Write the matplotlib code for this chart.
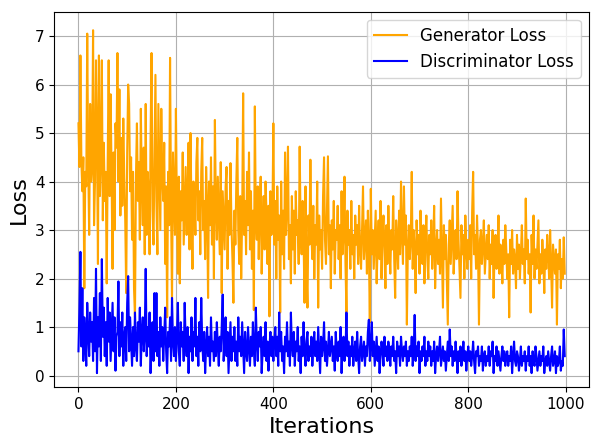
import matplotlib
matplotlib.use("Agg")
import matplotlib.pyplot as plt
import numpy as np

# values, one sample every 2 iterations
gen_loss = [
    5.2, 4.3, 6.6, 4.4, 3.8, 4.5, 1.8, 4.2, 3.9, 7.05, 4.4, 2.9, 5.6, 4.0, 4.3, 7.12, 3.1, 4.0, 6.5, 4.9,
    2.3, 6.6, 3.7, 4.5, 6.5, 3.2, 4.8, 3.6, 4.2, 1.9, 4.4, 6.5, 3.7, 5.8, 4.1, 2.2, 4.6, 3.0, 5.2, 4.7,
    6.65, 4.0, 5.9, 3.3, 4.9, 3.5, 5.3, 4.1, 3.2, 1.7, 4.6, 6.0, 5.6, 3.8, 4.5, 2.8, 4.2, 1.8, 1.2, 4.1,
    5.2, 3.6, 4.4, 2.8, 5.5, 3.9, 3.1, 4.7, 2.5, 5.6, 2.9, 4.2, 3.8, 2.5, 4.9, 6.65, 3.4, 2.7, 4.5, 6.2,
    3.6, 2.5, 5.6, 4.3, 3.0, 5.5, 4.1, 3.6, 4.8, 2.3, 3.9, 1.2, 4.2, 3.1, 6.55, 3.5, 1.5, 4.6, 3.7, 2.9,
    5.5, 3.4, 2.1, 4.1, 1.9, 3.8, 3.2, 4.6, 2.7, 3.5, 4.3, 2.9, 3.7, 4.8, 2.6, 5.0, 3.3, 2.2, 4.0, 3.6,
    2.9, 4.4, 4.9, 3.2, 3.8, 2.5, 4.2, 4.9, 3.0, 3.6, 2.4, 4.3, 3.5, 1.6, 4.0, 3.1, 4.5, 2.7, 3.9, 2.0,
    5.27, 3.5, 2.8, 4.1, 3.3, 2.5, 4.4, 1.7, 3.8, 3.2, 2.6, 3.9, 4.3, 2.2, 3.6, 2.9, 4.38, 3.1, 2.4, 1.5,
    3.4, 2.7, 4.0, 4.9, 3.0, 2.3, 3.7, 2.0, 3.3, 5.82, 2.9, 3.6, 2.5, 4.2, 3.1, 4.6, 2.6, 3.8, 2.2, 3.4,
    1.35, 5.55, 3.2, 2.8, 3.9, 2.4, 3.5, 4.1, 2.1, 3.0, 3.7, 2.6, 4.0, 3.3, 2.3, 3.5, 1.22, 3.8, 2.9, 3.2,
    5.2, 2.7, 3.6, 2.0, 3.9, 2.8, 3.3, 1.3, 4.0, 2.5, 3.4, 2.2, 4.6, 2.9, 3.5, 4.72, 2.4, 3.1, 1.9, 3.7,
    2.6, 3.4, 2.1, 3.8, 2.9, 3.2, 2.3, 4.72, 3.0, 2.5, 3.6, 2.8, 1.5, 3.9, 2.2, 1.4, 3.3, 2.7, 4.45, 2.9,
    2.4, 3.5, 2.0, 3.1, 2.7, 4.0, 1.4, 3.3, 2.6, 3.0, 2.2, 3.7, 4.5, 2.8, 2.3, 3.4, 4.52, 2.5, 3.1, 1.8,
    3.2, 2.6, 3.6, 2.1, 3.0, 2.8, 3.5, 2.4, 3.1, 2.0, 3.8, 2.5, 2.9, 4.1, 2.3, 1.3, 3.4, 2.7, 3.0, 2.2,
    3.6, 2.5, 2.9, 2.0, 3.3, 2.7, 3.1, 2.3, 3.5, 2.6, 2.2, 3.0, 3.9, 2.4, 2.8, 3.2, 2.1, 3.4, 2.6, 1.1,
    3.85, 2.5, 3.0, 2.2, 2.8, 3.4, 1.9, 2.7, 3.2, 2.4, 3.6, 2.0, 2.9, 3.3, 2.6, 1.8, 3.1, 2.3, 3.5, 2.7,
    2.1, 3.0, 2.6, 3.7, 2.4, 1.6, 3.2, 2.8, 2.2, 3.4, 2.5, 4.0, 2.9, 2.3, 3.9, 2.7, 3.3, 1.05, 2.6, 3.1,
    2.4, 2.8, 4.2, 2.2, 3.0, 2.6, 1.7, 3.2, 2.5, 2.9, 2.1, 3.4, 2.7, 2.3, 3.1, 1.9, 2.8, 3.3, 2.4, 2.0,
    2.9, 2.5, 3.2, 2.2, 2.7, 3.5, 1.8, 2.6, 3.0, 2.3, 2.8, 2.1, 3.65, 2.5, 1.4, 3.1, 2.4, 2.9, 2.0, 1.05,
    2.7, 3.2, 2.3, 2.9, 3.5, 2.1, 2.6, 3.0, 2.4, 3.8, 2.8, 2.2, 1.6, 3.1, 2.5, 2.9, 2.0, 3.3, 2.6, 2.2,
    2.8, 2.4, 3.1, 2.0, 3.4, 4.2, 2.5, 2.9, 2.2, 3.3, 2.6, 1.05, 2.8, 3.0, 2.3, 2.7, 3.2, 2.1, 2.5, 2.9,
    2.4, 3.1, 2.0, 2.7, 2.3, 3.0, 1.6, 2.6, 2.9, 2.2, 2.5, 3.3, 2.1, 2.7, 2.4, 1.9, 2.8, 2.3, 3.1, 2.6,
    2.0, 2.5, 1.2, 2.8, 2.3, 3.0, 2.1, 2.6, 2.4, 1.8, 2.9, 2.2, 2.7, 2.0, 2.5, 3.1, 2.3, 2.6, 1.9, 3.65,
    2.4, 2.8, 2.1, 2.5, 1.3, 2.9, 2.3, 3.3, 2.0, 2.6, 2.2, 2.7, 3.2, 1.9, 2.5, 2.1, 2.8, 2.4, 1.7, 2.6,
    2.2, 2.9, 2.5, 2.0, 3.0, 2.3, 1.4, 2.7, 2.4, 2.1, 2.6, 1.05, 2.5, 2.2, 2.8, 1.8, 2.4, 2.0, 2.85, 2.1,
]

disc_loss = [
    0.5, 1.4, 2.55, 0.6, 1.8, 0.3, 1.2, 0.8, 0.2, 1.5, 0.9, 0.4, 1.3, 0.7, 1.1, 0.3, 1.6, 0.5, 2.2, 0.05,
    1.2, 0.6, 1.7, 0.3, 2.4, 0.8, 1.4, 0.4, 1.1, 0.2, 1.6, 0.7, 1.3, 0.3, 0.9, 1.5, 0.5, 1.2, 0.1, 0.8,
    0.9, 1.94, 0.4, 1.1, 0.6, 1.3, 0.2, 0.8, 1.0, 0.3, 1.5, 2.05, 0.5, 1.2, 0.7, 0.2, 1.0, 0.4, 1.3, 0.6,
    0.3, 1.1, 0.7, 1.4, 0.2, 0.9, 1.2, 0.5, 0.8, 2.2, 0.4, 1.0, 0.6, 1.3, 0.05, 0.7, 1.1, 0.3, 1.7, 0.5,
    1.7, 0.4, 0.9, 0.2, 1.2, 0.6, 1.0, 0.3, 0.8, 1.4, 0.5, 0.05, 0.9, 0.6, 1.2, 0.3, 1.6, 0.7, 0.4, 1.0,
    0.3, 0.8, 1.5, 0.5, 0.2, 1.1, 0.6, 0.9, 0.3, 1.5, 0.7, 0.4, 1.0, 0.05, 0.8, 0.5, 1.2, 0.3, 0.9, 0.6,
    1.6, 0.4, 0.8, 0.2, 1.1, 0.5, 1.6, 0.7, 0.3, 0.9, 0.05, 0.6, 1.0, 0.4, 0.8, 0.2, 1.2, 0.5, 0.7, 0.3,
    0.9, 0.4, 1.1, 0.6, 0.2, 0.8, 0.5, 1.0, 1.67, 0.3, 0.7, 1.2, 0.4, 0.9, 0.05, 0.6, 1.1, 0.3, 0.8, 0.5,
    1.0, 0.3, 0.7, 0.2, 1.2, 0.5, 0.8, 0.4, 1.1, 0.6, 0.05, 0.9, 0.5, 0.3, 1.0, 0.6, 0.2, 0.8, 0.4, 1.1,
    0.5, 0.2, 1.4, 0.7, 0.3, 0.9, 0.6, 1.0, 0.05, 0.5, 0.8, 0.4, 1.1, 0.3, 0.7, 0.1, 0.6, 0.9, 0.4, 0.8,
    0.3, 0.7, 1.0, 0.4, 0.8, 0.2, 1.3, 0.5, 0.9, 0.3, 0.6, 0.05, 0.8, 0.5, 1.1, 0.4, 0.7, 0.2, 1.3, 0.6,
    0.4, 0.9, 0.2, 0.7, 0.5, 1.0, 0.3, 0.6, 0.05, 0.8, 0.4, 1.1, 0.5, 0.2, 0.7, 0.9, 0.3, 0.6, 0.4, 0.8,
    0.2, 0.6, 0.9, 0.4, 0.7, 0.3, 1.0, 0.5, 0.05, 0.8, 0.4, 0.6, 1.1, 0.3, 0.7, 0.2, 0.5, 0.9, 0.4, 0.6,
    0.8, 0.3, 0.6, 0.1, 0.9, 0.5, 0.3, 0.7, 0.4, 1.0, 0.05, 0.6, 0.8, 0.3, 0.5, 1.3, 0.4, 0.7, 0.2, 0.6,
    0.4, 0.8, 0.2, 0.5, 0.7, 0.3, 0.9, 0.4, 0.05, 0.6, 0.8, 0.3, 0.5, 0.7, 0.2, 0.6, 0.4, 0.9, 1.15, 0.3,
    0.6, 1.1, 0.4, 0.7, 0.2, 0.5, 0.8, 0.3, 0.6, 0.05, 0.4, 0.7, 0.5, 0.2, 0.8, 0.4, 0.6, 0.3, 0.7, 0.5,
    0.2, 0.6, 0.4, 0.8, 0.3, 0.5, 0.05, 0.7, 0.4, 0.6, 0.2, 0.8, 0.5, 0.3, 0.6, 0.4, 0.7, 0.2, 0.5, 0.3,
    0.6, 0.4, 0.8, 0.2, 0.5, 1.25, 0.3, 0.6, 0.4, 0.7, 0.05, 0.5, 0.3, 0.6, 0.4, 0.8, 0.2, 0.5, 0.3, 0.7,
    0.4, 0.6, 0.2, 0.5, 0.3, 0.7, 0.05, 0.4, 0.6, 0.3, 0.5, 0.8, 0.2, 0.4, 0.6, 0.3, 0.5, 0.1, 0.4, 0.7,
    0.3, 0.95, 0.4, 0.6, 0.2, 0.5, 0.3, 0.7, 0.4, 0.05, 0.5, 0.3, 0.6, 0.2, 0.4, 0.7, 0.3, 0.5, 0.1, 0.4,
    0.6, 0.3, 0.5, 0.2, 0.4, 0.7, 0.3, 0.05, 0.5, 0.4, 0.6, 0.2, 0.4, 0.3, 0.6, 0.1, 0.4, 0.5, 0.2, 0.4,
    0.3, 0.6, 0.2, 0.5, 0.4, 0.7, 0.05, 0.4, 0.3, 0.6, 0.2, 0.5, 0.3, 0.1, 0.4, 0.6, 0.3, 0.5, 0.2, 0.4,
    0.5, 0.2, 0.4, 0.3, 0.6, 0.05, 0.4, 0.7, 0.3, 0.2, 0.5, 0.4, 0.1, 0.3, 0.6, 0.2, 0.4, 0.3, 0.5, 0.1,
    0.4, 0.3, 0.6, 0.2, 0.4, 0.05, 0.5, 0.3, 0.2, 0.6, 0.4, 0.1, 0.3, 0.5, 0.2, 0.4, 0.3, 0.6, 0.05, 0.3,
    0.4, 0.2, 0.5, 0.3, 0.1, 0.4, 0.6, 0.2, 0.3, 0.5, 0.05, 0.4, 0.2, 0.3, 0.6, 0.1, 0.3, 0.2, 0.95, 0.4,
]

step = 2
x_gen = np.arange(len(gen_loss)) * step
x_disc = np.arange(len(disc_loss)) * step

fig = plt.figure(figsize=(5.95, 4.37), dpi=100)
ax = fig.add_subplot(111)
fig.subplots_adjust(left=0.091, right=0.990, top=0.973, bottom=0.114)

ax.plot(x_gen, gen_loss, color='orange', linewidth=1.5, label='Generator Loss')
ax.plot(x_disc, disc_loss, color='blue', linewidth=1.5, label='Discriminator Loss')

ax.set_ylim(-0.24, 7.5)
ax.set_xlabel('Iterations', fontsize=16)
ax.set_ylabel('Loss', fontsize=16)
ax.tick_params(labelsize=11)
ax.grid(True)
ax.legend(loc='upper right', fontsize=12)

fig.savefig('out.png', dpi=100)
